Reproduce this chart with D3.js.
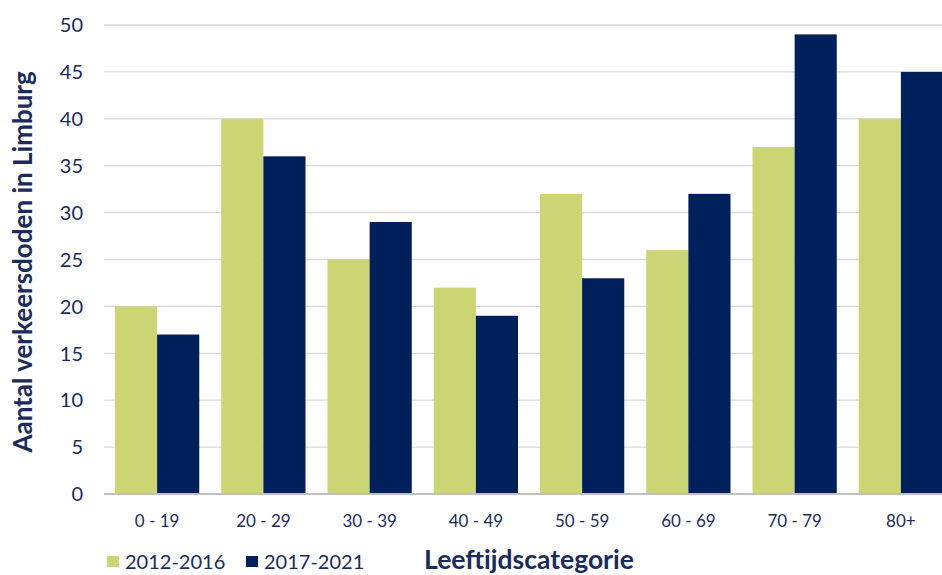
<!DOCTYPE html>
<html>
<head>
<meta charset="utf-8">
<script src="https://cdn.jsdelivr.net/npm/d3@7.9.0/dist/d3.min.js"></script>
<style>
  body { margin: 0; background: #fff; }
  svg { display: block; font-family: Lato, "Open Sans", "Noto Sans", sans-serif; }
</style>
</head>
<body>
<svg id="chart" width="942" height="575"></svg>
<script>
const categories = ['0 - 19', '20 - 29', '30 - 39', '40 - 49', '50 - 59', '60 - 69', '70 - 79', '80+'];
const series = ['2012-2016', '2017-2021'];
const values2012 = [20, 40, 25, 22, 32, 26, 37, 40];
const values2017 = [17, 36, 29, 19, 23, 32, 49, 45];
const yTicks = [0, 5, 10, 15, 20, 25, 30, 35, 40, 45, 50];

const colors = ['#cbd574', '#00205b'];
const textColor = '#1a2b5c';

const svg = d3.select('#chart');
const plotLeft = 104, plotRight = 954, plotTop = 25, plotBottom = 494;

const x = d3.scaleBand().domain(categories).range([plotLeft, plotRight]).paddingInner(0.207).paddingOuter(0.1035);
const xs = d3.scaleBand().domain(series).range([0, x.bandwidth()]);
const y = d3.scaleLinear().domain([0, 50]).range([plotBottom, plotTop]);

// gridlines
svg.append('g').selectAll('line').data(yTicks.filter(d => d > 0)).join('line')
  .attr('x1', plotLeft).attr('x2', 942)
  .attr('y1', d => y(d)).attr('y2', d => y(d))
  .attr('stroke', '#d9d9d9').attr('stroke-width', 1.3);

const data = categories.map((c, i) => ({ cat: c, vals: [values2012[i], values2017[i]] }));

svg.append('g').selectAll('g').data(data).join('g')
  .attr('transform', d => `translate(${x(d.cat)},0)`)
  .selectAll('rect').data(d => d.vals.map((v, j) => ({ s: series[j], v, j }))).join('rect')
  .attr('x', d => xs(d.s)).attr('width', xs.bandwidth())
  .attr('y', d => y(d.v)).attr('height', d => y(0) - y(d.v))
  .attr('fill', d => colors[d.j]);

// baseline
svg.append('line').attr('x1', plotLeft).attr('x2', 942).attr('y1', y(0)).attr('y2', y(0))
  .attr('stroke', '#bfbfbf').attr('stroke-width', 2);

// y tick labels
svg.append('g').selectAll('text').data(yTicks).join('text')
  .attr('x', 83).attr('y', d => y(d)).attr('dy', '0.36em')
  .attr('text-anchor', 'end').attr('fill', textColor)
  .attr('font-size', 20).text(d => d);

// x tick labels
svg.append('g').selectAll('text').data(categories).join('text')
  .attr('x', d => x(d) + x.bandwidth() / 2).attr('y', 521).attr('dy', '0.36em')
  .attr('text-anchor', 'middle').attr('fill', textColor)
  .attr('font-size', 17).text(d => d);

// y axis title
svg.append('text')
  .attr('transform', 'translate(32,262) rotate(-90)')
  .attr('text-anchor', 'middle').attr('fill', textColor)
  .attr('font-size', 26).attr('font-weight', 'bold')
  .text('Aantal verkeersdoden in Limburg');

// x axis title
svg.append('text')
  .attr('x', 529).attr('y', 569)
  .attr('text-anchor', 'middle').attr('fill', textColor)
  .attr('font-size', 26.5).attr('font-weight', 'bold')
  .text('Leeftijdscategorie');

// legend
const legendX = [107, 246];
const legend = svg.append('g').selectAll('g').data(series).join('g')
  .attr('transform', (d, i) => `translate(${legendX[i]},556)`);
legend.append('rect').attr('width', 12).attr('height', 11).attr('fill', (d, i) => colors[i]);
legend.append('text').attr('x', 18).attr('y', 5.5).attr('dy', '0.36em')
  .attr('fill', textColor).attr('font-size', 20).text(d => d);
</script>
</body>
</html>
